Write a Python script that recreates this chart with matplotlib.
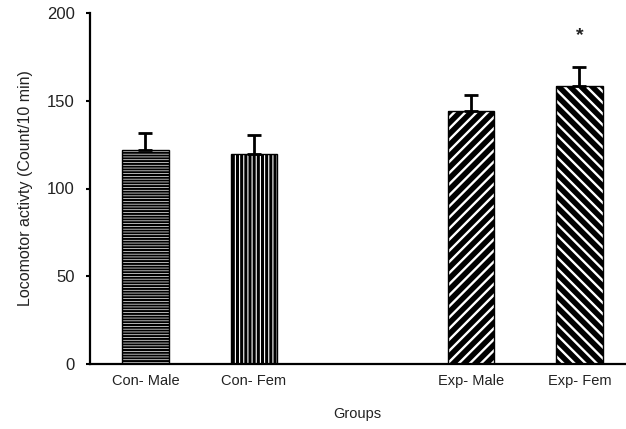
import matplotlib.pyplot as plt

groups = ["Con- Male", "Con- Fem", "Exp- Male", "Exp- Fem"]
positions = [0, 1, 3, 4]
means = [122, 119.5, 144, 158.5]
errors = [9.5, 11, 9.5, 10.5]
hatches = ["------", "||||", "///", "\\\\\\"]
hatch_widths = [0.5, 0.8, 1.7, 1.7]
star_group = 3  # significant vs control (Exp- Fem)

plt.rcParams["font.family"] = ["Liberation Sans", "DejaVu Sans"]

fig = plt.figure(figsize=(6.26, 4.29), dpi=100)
ax = fig.add_axes([90 / 626, 65 / 429, 535 / 626, 351 / 429])

for x, m, e, h, hw in zip(positions, means, errors, hatches, hatch_widths):
    plt.rcParams["hatch.linewidth"] = hw  # read when the patch is created
    # black bar with white hatch lines, then a black outline on top
    ax.bar(x, m, width=0.43, color="black", edgecolor="white",
           linewidth=0, hatch=h, zorder=2)
    ax.bar(x, m, width=0.43, facecolor="none", edgecolor="black",
           linewidth=1.0, zorder=2.5)
    ax.errorbar(x, m, yerr=[[0], [e]], fmt="none", ecolor="black",
                elinewidth=2, capsize=5, capthick=2, zorder=3)

ax.text(positions[star_group], means[star_group] + errors[star_group] + 18, "*",
        ha="center", va="center", fontsize=14, fontweight="bold", color="#222222")

ax.set_xlim(-0.51, 4.42)
ax.set_ylim(0, 200)
ax.set_yticks([0, 50, 100, 150, 200])
ax.set_xticks(positions)
ax.set_xticklabels(groups, fontsize=10.5, color="#222222")
ax.tick_params(axis="x", length=0, pad=7)
ax.tick_params(axis="y", direction="out", length=3, width=1.5, pad=8,
               labelsize=12, labelcolor="#222222")

for side in ["top", "right"]:
    ax.spines[side].set_visible(False)
for side in ["left", "bottom"]:
    ax.spines[side].set_linewidth(1.6)

ax.set_xlabel("Groups", fontsize=10.5, color="#222222", labelpad=14)
ax.set_ylabel("Locomotor activty (Count/10 min)", fontsize=11.5,
              color="#222222", labelpad=10)

fig.savefig("out.png", dpi=100)
